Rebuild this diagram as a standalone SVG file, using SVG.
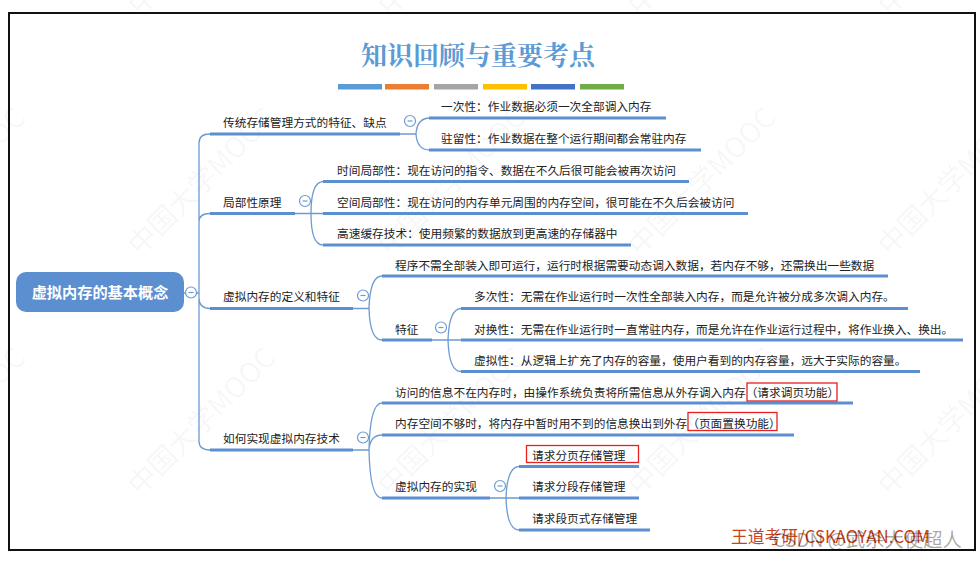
<svg xmlns="http://www.w3.org/2000/svg" width="980" height="561" viewBox="0 0 980 561">
<style>
text{font-family:"Noto Sans CJK SC","Liberation Sans",sans-serif;font-size:11.7px;fill:#222}
.wm{font-size:28px;fill:#000;fill-opacity:.05}
.c{fill:none;stroke:#6c9bd2;stroke-width:1.3}
.u{fill:none;stroke:#5b8fd0;stroke-width:3}
.m{fill:#fff;stroke:#6c9bd2;stroke-width:1.2}
.mm{stroke:#6c9bd2;stroke-width:1.2}
.r{fill:none;stroke:#e8201f;stroke-width:1.3}
</style>
<defs>
<g id="minus"><circle r="5.500" class="m"/><line x1="-2.500" x2="2.500" class="mm"/></g>
<text id="w" class="wm" transform="rotate(-45)">中国大学MOOC</text>
</defs>
<rect width="980" height="561" fill="#fff"/>
<g id="watermarks">
<use href="#w" transform="translate(-110 257)"/>
<use href="#w" transform="translate(140 17)"/>
<use href="#w" transform="translate(390 17)"/>
<use href="#w" transform="translate(640 17)"/>
<use href="#w" transform="translate(890 17)"/>
<use href="#w" transform="translate(140 257)"/>
<use href="#w" transform="translate(390 257)"/>
<use href="#w" transform="translate(640 257)"/>
<use href="#w" transform="translate(890 257)"/>
<use href="#w" transform="translate(-110 497)"/>
<use href="#w" transform="translate(140 497)"/>
<use href="#w" transform="translate(390 497)"/>
<use href="#w" transform="translate(640 497)"/>
<use href="#w" transform="translate(890 497)"/>
</g>
<rect x="9" y="13" width="966" height="537" fill="none" stroke="#111" stroke-width="2"/>
<text x="478" y="65" text-anchor="middle" style="font-family:'Noto Serif CJK SC','Noto Sans CJK SC',serif;font-size:26px;font-weight:700;fill:#5b9bd5">知识回顾与重要考点</text>
<g id="title-bars">
<rect x="338" y="84" width="44" height="5.500" fill="#5b9bd5"/>
<rect x="385" y="84" width="44" height="5.500" fill="#ed7d31"/>
<rect x="434" y="84" width="44" height="5.500" fill="#a5a5a5"/>
<rect x="483" y="84" width="44" height="5.500" fill="#ffc000"/>
<rect x="531" y="84" width="44" height="5.500" fill="#4472c4"/>
<rect x="580" y="84" width="44" height="5.500" fill="#70ad47"/>
</g>
<g id="connectors">
<path class="c" d="M184 293H199M210 134Q199 134 199 143V441Q199 450 210 450M210 213.500Q199 213.500 199 222M210 308.500Q199 308.500 199 298"/>
<path class="c" d="M400 134H416M430 118Q417 118 416 134Q417 150 430 150"/>
<path class="c" d="M295 213.500H323M323 181.500Q311 182 311 213.500Q311 245 323 245"/>
<path class="c" d="M353 308.500H369M382 276Q370 276 369 308.500Q370 340 382 340"/>
<path class="c" d="M432 340H461M461 308.500Q449 309 448 340Q449 371.500 461 371.500"/>
<path class="c" d="M353 450H369M382 403Q370 403 369 450Q370 498 382 498M382 435Q370 435 369 450"/>
<path class="c" d="M490 498H519M519 466.500Q507 467 506 498Q507 530 519 530"/>
</g>
<g id="root">
<rect x="16" y="272" width="168" height="40" rx="10" fill="#5b8fd0"/>
<text x="100" y="298" text-anchor="middle" style="font-size:15.200px;font-weight:700;fill:#fff">虚拟内存的基本概念</text>
<use href="#minus" x="191" y="292.500"/>
</g>
<g id="n1"><text x="223" y="127">传统存储管理方式的特征、缺点</text><line class="u" x1="210" x2="400" y1="134" y2="134"/><use href="#minus" x="410" y="121"/></g>
<g id="n1a"><text x="441" y="111">一次性：作业数据必须一次全部调入内存</text><line class="u" x1="429" x2="666" y1="118" y2="118"/></g>
<g id="n1b"><text x="441" y="143">驻留性：作业数据在整个运行期间都会常驻内存</text><line class="u" x1="429" x2="701" y1="150" y2="150"/></g>
<g id="n2"><text x="223" y="207">局部性原理</text><line class="u" x1="210" x2="295" y1="213.500" y2="213.500"/><use href="#minus" x="305" y="201"/></g>
<g id="n2a"><text x="337" y="175">时间局部性：现在访问的指令、数据在不久后很可能会被再次访问</text><line class="u" x1="323" x2="689" y1="181.500" y2="181.500"/></g>
<g id="n2b"><text x="337" y="207">空间局部性：现在访问的内存单元周围的内存空间，很可能在不久后会被访问</text><line class="u" x1="323" x2="748" y1="213.500" y2="213.500"/></g>
<g id="n2c"><text x="337" y="238">高速缓存技术：使用频繁的数据放到更高速的存储器中</text><line class="u" x1="323" x2="631" y1="245" y2="245"/></g>
<g id="n3"><text x="223" y="301">虚拟内存的定义和特征</text><line class="u" x1="210" x2="353" y1="308.500" y2="308.500"/><use href="#minus" x="363" y="295.500"/></g>
<g id="n3a"><text x="395" y="270">程序不需全部装入即可运行，运行时根据需要动态调入数据，若内存不够，还需换出一些数据</text><line class="u" x1="382" x2="888" y1="276" y2="276"/></g>
<g id="n3b"><text x="395" y="334">特征</text><line class="u" x1="382" x2="432" y1="340" y2="340"/><use href="#minus" x="441" y="327.500"/></g>
<g id="n3b1"><text x="474" y="301">多次性：无需在作业运行时一次性全部装入内存，而是允许被分成多次调入内存。</text><line class="u" x1="461" x2="908" y1="308.500" y2="308.500"/></g>
<g id="n3b2"><text x="474" y="334">对换性：无需在作业运行时一直常驻内存，而是允许在作业运行过程中，将作业换入、换出。</text><line class="u" x1="461" x2="963" y1="340" y2="340"/></g>
<g id="n3b3"><text x="474" y="365">虚拟性：从逻辑上扩充了内存的容量，使用户看到的内存容量，远大于实际的容量。</text><line class="u" x1="461" x2="920" y1="371.500" y2="371.500"/></g>
<g id="n4"><text x="223" y="443">如何实现虚拟内存技术</text><line class="u" x1="210" x2="353" y1="450" y2="450"/><use href="#minus" x="363" y="437.500"/></g>
<g id="n4a"><text x="395" y="397">访问的信息不在内存时，由操作系统负责将所需信息从外存调入内存（请求调页功能）</text><line class="u" x1="382" x2="853" y1="403" y2="403"/><rect class="r" x="747" y="383" width="90" height="18"/></g>
<g id="n4b"><text x="395" y="428">内存空间不够时，将内存中暂时用不到的信息换出到外存（页面置换功能）</text><line class="u" x1="382" x2="794" y1="435" y2="435"/><rect class="r" x="688" y="412.500" width="89" height="18"/></g>
<g id="n4c"><text x="395" y="491">虚拟内存的实现</text><line class="u" x1="382" x2="490" y1="498" y2="498"/><use href="#minus" x="500" y="486"/></g>
<g id="n4c1"><text x="532" y="460">请求分页存储管理</text><line class="u" x1="519" x2="639" y1="466.500" y2="466.500"/><rect class="r" x="526.500" y="445.500" width="112" height="17"/></g>
<g id="n4c2"><text x="532" y="491">请求分段存储管理</text><line class="u" x1="519" x2="639" y1="498" y2="498"/></g>
<g id="n4c3"><text x="532" y="523">请求段页式存储管理</text><line class="u" x1="519" x2="650" y1="530" y2="530"/></g>
<text x="731" y="543" style="font-size:16.800px;fill:#c8431a">王道考研/CSKAOYAN.COM</text>
<text x="773" y="547" style="font-size:19.300px;fill:#000;fill-opacity:.35">CSDN @武杀大使超人</text>
</svg>
